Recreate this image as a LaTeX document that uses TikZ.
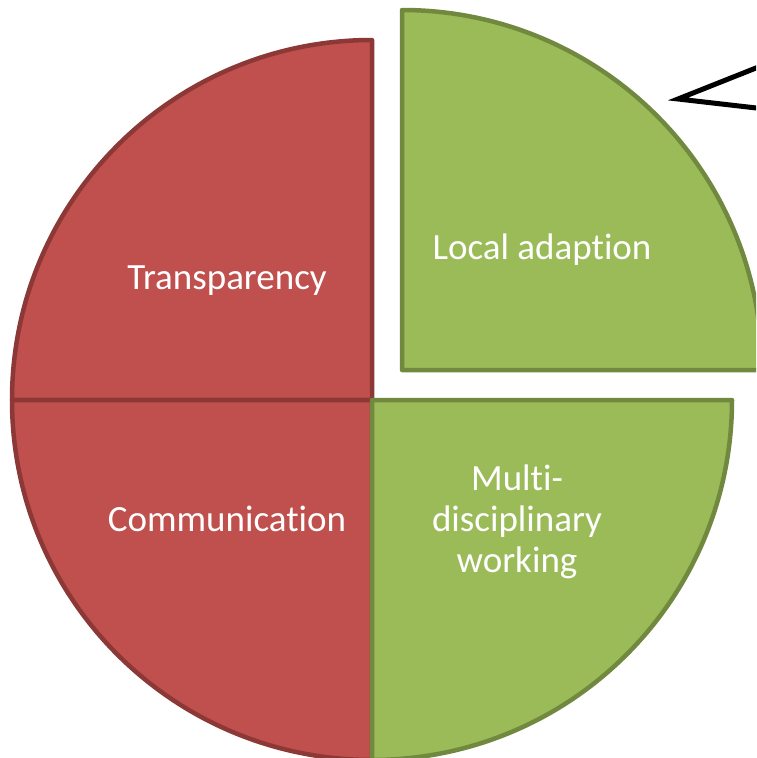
\documentclass[tikz,border=0pt]{standalone}
\usepackage{fontspec}
\setmainfont{Carlito}[Ligatures=NoCommon]
\definecolor{redfill}{HTML}{C0504D}
\definecolor{redline}{HTML}{8C3836}
\definecolor{greenfill}{HTML}{9BBB59}
\definecolor{greenline}{HTML}{71893F}
\begin{document}
\begin{tikzpicture}[x=1pt,y=-1pt,
  redslice/.style={fill=redfill,draw=redline,line width=4.5pt,line join=round},
  greenslice/.style={fill=greenfill,draw=greenline,line width=4.5pt,line join=round},
  lbl/.style={text=white,font=\fontsize{37}{41}\selectfont,align=center,inner sep=0pt}]
\useasboundingbox (0,0) rectangle (756,758);
\clip (0,0) rectangle (756,758);
\draw[redslice] (372,400) -- (372,40) arc[start angle=-90,end angle=-180,radius=360] -- cycle;
\draw[redslice] (372,400) -- (12,400) arc[start angle=180,end angle=90,radius=360] -- cycle;
\draw[greenslice] (372,400) -- (372,760) arc[start angle=90,end angle=0,radius=360] -- cycle;
\draw[greenslice] (402,370) -- (762,370) arc[start angle=0,end angle=-90,radius=360] -- cycle;
\coordinate (cu) at (800,50.5);
\coordinate (tip) at (678,99);
\coordinate (cl) at (800,113);
\draw[black,line width=5pt,line join=miter] (cu) -- (tip) -- (cl);
\node[lbl] (t) at (227,281) {Transparency};
\node[lbl] (c) at (227,519) {Communication};
\node[lbl] (l) at (542,250) {Local adaption};
\node[lbl] (m) at (517,522) {Multi-\\disciplinary\\working};
\end{tikzpicture}
\end{document}
